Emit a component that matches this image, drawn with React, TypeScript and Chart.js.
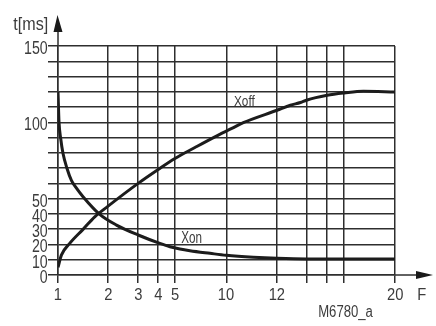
import React, { useEffect, useRef } from 'react';
import { Chart, LinearScale, registerables } from 'chart.js';

// ---- data ----
const xTicks = [1, 2, 3, 4, 5, 10, 12, 14, 16, 18, 20];
const xTickLabels = ['1', '2', '3', '4', '5', '10', '12', '', '', '', '20'];
const yLabeled = [0, 10, 20, 30, 40, 50, 100, 150];

const xonX = [1.0, 1.014, 1.038, 1.072, 1.133, 1.204, 1.278, 1.414, 1.782, 2.24, 3.0, 4.09, 4.68, 5.35, 6.12, 8.02, 10.0, 11.02, 12.0, 14.0, 20.0];
const xonY = [120, 100.3, 89.4, 79.6, 69.8, 62, 57.5, 51.3, 39.7, 32.7, 26.2, 20.7, 18.5, 17, 15.9, 14.2, 12.9, 11.6, 10.9, 10.5, 10.5];

const xoffX = [1.0, 1.048, 1.176, 1.414, 1.663, 2.0, 3.0, 4.0, 5.0, 6.55, 8.58, 10.2, 10.63, 12.0, 12.87, 13.57, 14.0, 16.0, 18.0, 18.73, 20.0];
const xoffY = [5, 13, 20.7, 29.9, 38.1, 45.1, 60, 69.1, 76.3, 83.5, 90.5, 96, 99.8, 107.9, 111.2, 113, 114.5, 117.7, 119.2, 120.3, 119.9];

// ---- scale layout (fraction of axis length at each x tick) ----
const xTickFractions = [0, 0.1486, 0.2378, 0.2973, 0.3469, 0.4994, 0.6501, 0.7372, 0.7987, 0.8493, 1];

function valueToFraction(v: number): number {
  const lv = Math.log10(Math.max(v, 1e-9));
  for (let i = 0; i < xTicks.length - 1; i++) {
    const a = Math.log10(xTicks[i]);
    const b = Math.log10(xTicks[i + 1]);
    if (lv <= b || i === xTicks.length - 2) {
      const t = (lv - a) / (b - a);
      return xTickFractions[i] + t * (xTickFractions[i + 1] - xTickFractions[i]);
    }
  }
  return 1;
}
function fractionToValue(f: number): number {
  for (let i = 0; i < xTicks.length - 1; i++) {
    const fa = xTickFractions[i];
    const fb = xTickFractions[i + 1];
    if (f <= fb || i === xTicks.length - 2) {
      const t = (f - fa) / (fb - fa);
      const a = Math.log10(xTicks[i]);
      const b = Math.log10(xTicks[i + 1]);
      return Math.pow(10, a + t * (b - a));
    }
  }
  return xTicks[xTicks.length - 1];
}

class GridLogScale extends LinearScale {
  static id = 'gridlog';
  static defaults = LinearScale.defaults;
  determineDataLimits() {
    (this as any).min = xTicks[0];
    (this as any).max = xTicks[xTicks.length - 1];
  }
  buildTicks() {
    return xTicks.map((v) => ({ value: v }));
  }
  getPixelForValue(value: number) {
    return (this as any).getPixelForDecimal(valueToFraction(value));
  }
  getValueForPixel(pixel: number) {
    return fractionToValue((this as any).getDecimalForPixel(pixel));
  }
}

Chart.register(...registerables, GridLogScale as any);

const FONT = "'Liberation Sans', Arial, sans-serif";
const LINE = '#2e2e2e';
const TEXT = '#3c3c3c';

type Align = 'left' | 'center' | 'right';

function drawScaled(ctx: CanvasRenderingContext2D, text: string, size: number, x: number, y: number, sx: number, align: Align) {
  ctx.font = `${size}px ${FONT}`;
  const m = ctx.measureText(text);
  const L = m.actualBoundingBoxLeft;
  const R = m.actualBoundingBoxRight;
  let ox = L;
  if (align === 'right') ox = -R;
  if (align === 'center') ox = (L - R) / 2;
  ctx.save();
  ctx.translate(x, y);
  ctx.scale(sx, 1);
  ctx.textAlign = 'left';
  ctx.textBaseline = 'alphabetic';
  ctx.fillText(text, ox, 0);
  ctx.restore();
}
function scaleFor(ctx: CanvasRenderingContext2D, text: string, size: number, width: number) {
  ctx.font = `${size}px ${FONT}`;
  const m = ctx.measureText(text);
  return width / (m.actualBoundingBoxLeft + m.actualBoundingBoxRight);
}

const extras = {
  id: 'extras',
  afterDraw(chart: any) {
    const { ctx, chartArea: ca, scales } = chart;
    const xs = scales.x;
    const ys = scales.y;
    ctx.save();
    ctx.strokeStyle = LINE;
    ctx.fillStyle = '#1a1a1a';
    ctx.lineWidth = 1.5;
    // y axis extension + arrow
    ctx.beginPath();
    ctx.moveTo(ca.left, ca.top);
    ctx.lineTo(ca.left, 28);
    ctx.stroke();
    ctx.beginPath();
    ctx.moveTo(ca.left - 4.5, 32);
    ctx.lineTo(ca.left + 4.5, 32);
    ctx.lineTo(ca.left - 0.5, 15);
    ctx.closePath();
    ctx.fill();
    // x axis extension + arrow
    ctx.beginPath();
    ctx.moveTo(ca.right, ca.bottom);
    ctx.lineTo(420, ca.bottom);
    ctx.stroke();
    ctx.beginPath();
    ctx.moveTo(416, ca.bottom - 4);
    ctx.lineTo(416, ca.bottom + 4);
    ctx.lineTo(433, ca.bottom);
    ctx.closePath();
    ctx.fill();

    ctx.fillStyle = TEXT;
    // y tick labels (from the y scale's ticks)
    const ySize = 18.5;
    const ySx = scaleFor(ctx, '150', ySize, 22.7);
    ys.ticks.forEach((t: any, i: number) => {
      if (!yLabeled.includes(t.value)) return;
      drawScaled(ctx, String(t.value), ySize, ca.left - 10.5, ys.getPixelForTick(i) + 8, ySx, 'right');
    });
    // x tick labels (from the x scale's ticks)
    const xSize = 17;
    const xSx = scaleFor(ctx, '20', xSize, 16);
    xs.ticks.forEach((t: any, i: number) => {
      const lab = xTickLabels[i];
      if (!lab) return;
      drawScaled(ctx, lab, xSize, xs.getPixelForTick(i), 300, xSx, 'center');
    });
    drawScaled(ctx, 'F', xSize, 418, 300, xSx, 'left');

    drawScaled(ctx, 't[ms]', 18, 13.3, 29.5, scaleFor(ctx, 't[ms]', 18, 34), 'left');
    drawScaled(ctx, 'M6780_a', 16, 319, 316.7, scaleFor(ctx, 'M6780_a', 16, 54), 'left');
    drawScaled(ctx, 'Xoff', 15.5, xs.getPixelForValue(10.28), ys.getPixelForValue(110.5), scaleFor(ctx, 'Xoff', 15.5, 21.3), 'left');
    drawScaled(ctx, 'Xon', 16.5, xs.getPixelForValue(5.45), ys.getPixelForValue(20.9), scaleFor(ctx, 'Xon', 16.5, 20.7), 'left');
    ctx.restore();
  },
};

export default function App() {
  const ref = useRef<HTMLCanvasElement | null>(null);
  useEffect(() => {
    if (!ref.current) return;
    const chart = new Chart(ref.current, {
      type: 'line',
      data: {
        datasets: [
          {
            label: 'Xon',
            data: xonX.map((x, i) => ({ x, y: xonY[i] })),
            borderColor: '#1c1c1c',
            borderWidth: 3,
            pointRadius: 0,
            cubicInterpolationMode: 'monotone',
            fill: false,
          },
          {
            label: 'Xoff',
            data: xoffX.map((x, i) => ({ x, y: xoffY[i] })),
            borderColor: '#1c1c1c',
            borderWidth: 3,
            pointRadius: 0,
            cubicInterpolationMode: 'monotone',
            fill: false,
          },
        ],
      },
      options: {
        animation: false,
        responsive: false,
        events: [],
        layout: { padding: { left: 0, top: 46, right: 41, bottom: 0 } },
        plugins: { legend: { display: false }, tooltip: { enabled: false } },
        scales: {
          x: {
            type: 'gridlog' as any,
            min: 1,
            max: 20,
            afterFit: (s: any) => { s.height = 51; },
            grid: { color: LINE, lineWidth: 1.5, tickLength: 8, tickColor: LINE, drawTicks: true },
            border: { display: true, color: LINE, width: 1.5 },
            ticks: { display: false, autoSkip: false },
          },
          y: {
            type: 'linear',
            min: 0,
            max: 150,
            afterFit: (s: any) => { s.width = 58; },
            grid: { color: LINE, lineWidth: 1.5, tickLength: 10, tickColor: LINE, drawTicks: true },
            border: { display: true, color: LINE, width: 1.5 },
            ticks: { display: false, stepSize: 10, autoSkip: false },
          },
        },
      },
      plugins: [extras],
    });
    return () => chart.destroy();
  }, []);
  return (
    <div style={{ position: 'fixed', left: 0, top: 0, width: 436, height: 326, background: '#fff' }}>
      <canvas ref={ref} width={436} height={326} style={{ width: 436, height: 326 }} />
    </div>
  );
}
